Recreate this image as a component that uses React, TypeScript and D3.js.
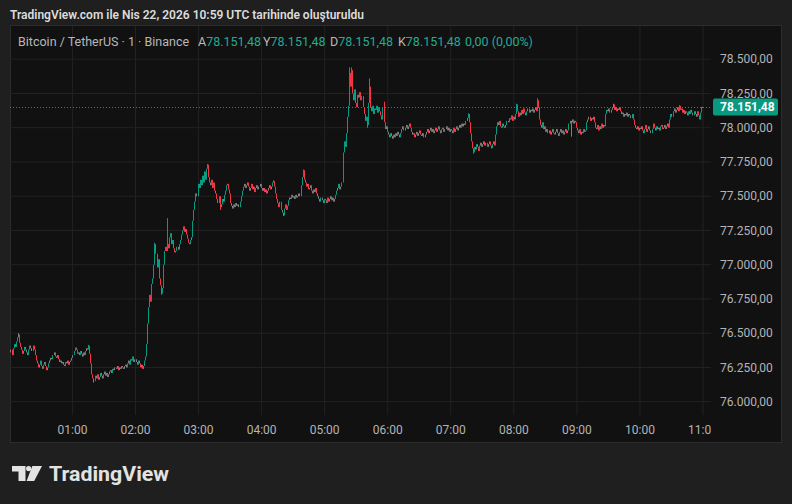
import { useEffect } from 'react';
import * as d3 from 'd3';

const W = 792;
const H = 504;

// 1-minute closes, one array per hour (00:00 - 10:59)
const h00 = [76360, 76380, 76340, 76390, 76420, 76400, 76440, 76470, 76490, 76430, 76400, 76380, 76350, 76370, 76400, 76380, 76360, 76340, 76380, 76410, 76390, 76370, 76410, 76380, 76340, 76300, 76280, 76250, 76270, 76300, 76260, 76240, 76270, 76290, 76260, 76230, 76250, 76280, 76300, 76320, 76310, 76340, 76360, 76330, 76320, 76340, 76310, 76290, 76300, 76280, 76290, 76270, 76260, 76290, 76280, 76300, 76270, 76290, 76300, 76320];
const h01 = [76340, 76370, 76395, 76380, 76350, 76360, 76340, 76370, 76350, 76330, 76360, 76340, 76370, 76390, 76380, 76408, 76350, 76280, 76200, 76170, 76150, 76190, 76170, 76200, 76160, 76180, 76210, 76190, 76170, 76200, 76220, 76190, 76210, 76180, 76200, 76220, 76230, 76210, 76240, 76230, 76250, 76240, 76260, 76230, 76250, 76240, 76260, 76250, 76240, 76260, 76270, 76250, 76280, 76300, 76270, 76310, 76300, 76330, 76290, 76310];
const h02 = [76290, 76270, 76300, 76280, 76250, 76270, 76240, 76260, 76300, 76330, 76420, 76570, 76690, 76780, 76730, 76860, 76900, 77000, 77150, 77080, 76980, 77040, 76900, 76850, 76790, 76830, 77000, 77100, 77130, 77100, 77150, 77120, 77200, 77230, 77150, 77180, 77120, 77090, 77100, 77130, 77110, 77150, 77180, 77220, 77250, 77280, 77240, 77260, 77220, 77190, 77160, 77150, 77180, 77200, 77320, 77400, 77460, 77520, 77500, 77590];
const h03 = [77560, 77620, 77580, 77650, 77600, 77680, 77620, 77700, 77730, 77640, 77600, 77580, 77620, 77560, 77600, 77540, 77520, 77480, 77450, 77500, 77420, 77440, 77480, 77460, 77510, 77540, 77580, 77590, 77550, 77520, 77450, 77430, 77410, 77440, 77420, 77450, 77430, 77440, 77420, 77460, 77500, 77540, 77570, 77590, 77560, 77580, 77600, 77570, 77540, 77560, 77590, 77550, 77570, 77530, 77560, 77580, 77550, 77570, 77590, 77560];
const h04 = [77540, 77560, 77530, 77550, 77520, 77540, 77560, 77580, 77550, 77570, 77600, 77610, 77570, 77520, 77480, 77450, 77420, 77460, 77400, 77380, 77360, 77410, 77440, 77400, 77430, 77470, 77490, 77480, 77510, 77490, 77500, 77480, 77510, 77490, 77500, 77520, 77500, 77580, 77640, 77690, 77620, 77600, 77570, 77590, 77550, 77560, 77580, 77540, 77520, 77550, 77530, 77560, 77520, 77500, 77480, 77460, 77490, 77470, 77450, 77480];
const h05 = [77470, 77450, 77490, 77460, 77480, 77500, 77470, 77490, 77460, 77480, 77510, 77540, 77560, 77590, 77550, 77570, 77600, 77820, 77900, 77860, 77960, 78080, 78160, 78400, 78300, 78420, 78250, 78200, 78280, 78180, 78150, 78240, 78220, 78260, 78200, 78230, 78150, 78100, 78050, 78080, 78020, 78180, 78300, 78150, 78120, 78160, 78100, 78140, 78130, 78160, 78110, 78150, 78120, 78090, 78060, 78150, 78040, 77990, 78010, 77970];
const h06 = [77950, 77930, 77960, 77940, 77920, 77950, 77930, 77960, 77940, 77970, 77950, 77930, 77960, 77990, 78010, 77980, 78000, 78020, 77990, 78010, 78030, 78000, 77970, 77950, 77960, 77930, 77950, 77970, 77940, 77960, 77980, 77950, 77940, 77960, 77930, 77950, 77970, 77990, 77960, 77980, 78000, 77970, 77990, 77960, 77980, 78000, 77970, 77990, 78010, 77980, 77960, 77990, 78000, 77970, 77990, 78010, 77980, 78000, 77970, 77990];
const h07 = [77980, 77960, 78000, 77970, 77990, 78010, 77980, 78000, 78020, 78000, 78030, 78010, 78030, 78020, 78050, 78070, 78100, 78040, 77960, 77900, 77850, 77820, 77860, 77840, 77880, 77860, 77830, 77870, 77890, 77860, 77880, 77900, 77870, 77890, 77860, 77880, 77900, 77870, 77850, 77880, 77900, 77870, 77950, 78010, 78040, 78020, 78050, 78010, 78000, 78030, 78010, 78000, 78020, 78050, 78040, 78070, 78060, 78090, 78050, 78080];
const h08 = [78060, 78100, 78170, 78120, 78080, 78110, 78090, 78130, 78100, 78140, 78110, 78090, 78120, 78140, 78110, 78130, 78120, 78140, 78110, 78130, 78150, 78120, 78200, 78150, 78060, 78020, 78000, 78040, 77990, 78010, 77970, 77990, 77960, 77980, 77950, 77970, 77990, 77960, 77950, 77970, 77990, 77960, 77940, 77970, 77990, 77960, 77980, 77950, 77970, 77990, 77960, 77980, 78030, 78050, 78040, 78060, 78030, 78050, 78040, 78000];
const h09 = [77980, 77960, 77990, 77950, 77970, 77960, 77990, 77970, 77980, 78040, 78060, 78080, 78050, 78070, 78060, 78080, 78040, 78000, 77990, 78020, 77980, 78010, 77990, 78030, 78000, 78020, 78010, 78100, 78130, 78120, 78140, 78110, 78130, 78150, 78170, 78130, 78150, 78120, 78140, 78130, 78150, 78120, 78100, 78110, 78080, 78100, 78090, 78110, 78080, 78100, 78090, 78070, 78100, 78060, 78020, 78000, 77990, 78010, 77980, 78000];
const h10 = [77990, 78010, 77980, 77960, 77990, 78020, 77970, 77990, 78010, 77980, 77960, 77990, 78030, 78000, 77980, 78010, 77990, 78000, 77980, 78010, 78020, 77990, 78000, 78020, 77990, 78010, 78030, 78000, 78060, 78100, 78080, 78120, 78140, 78110, 78130, 78150, 78120, 78160, 78130, 78140, 78110, 78130, 78100, 78120, 78110, 78090, 78120, 78100, 78130, 78110, 78090, 78120, 78100, 78080, 78120, 78090, 78060, 78110, 78151.48, 78151.48];

const firstOpen = 76340;

// notable wicks: [minute index, price]
const wickHighs: [number, number][] = [[8, 76500], [75, 76415], [138, 77160], [150, 77340], [188, 77735], [251, 77615], [279, 77695], [323, 78440], [325, 78440], [342, 78360], [356, 78190], [436, 78105], [482, 78175], [502, 78215], [574, 78175], [637, 78165]];
const wickLows: [number, number][] = [[80, 76140], [144, 76780], [200, 77400], [260, 77355], [340, 78000], [441, 77810], [534, 77935]];

const priceTicks = [76000, 76250, 76500, 76750, 77000, 77250, 77500, 77750, 78000, 78250, 78500];
const timeTicks = [60, 120, 180, 240, 300, 360, 420, 480, 540, 600, 660];
const timeLabels = ['01:00', '02:00', '03:00', '04:00', '05:00', '06:00', '07:00', '08:00', '09:00', '10:00', '11:00'];
const lastPrice = 78151.48;

const UP = '#089981';
const DOWN = '#f23645';
const FLAT = '#7f7f7f';
const FONT = 'Roboto, "Noto Sans", sans-serif';

const trLocale = d3.formatLocale({ decimal: ',', thousands: '.', grouping: [3], currency: ['', ''] });
const fmtPrice = trLocale.format(',.2f');

export default function App() {
  useEffect(() => {
    document.body.style.margin = '0';
    document.body.style.background = '#1f1f1f';
  }, []);

  const closes = [h00, h01, h02, h03, h04, h05, h06, h07, h08, h09, h10].flat();
  const highMap = new Map(wickHighs);
  const lowMap = new Map(wickLows);
  const candles = closes.map((c, i) => {
    const o = i === 0 ? firstOpen : closes[i - 1];
    const hi = Math.max(o, c, highMap.get(i) ?? -Infinity);
    const lo = Math.min(o, c, lowMap.get(i) ?? Infinity);
    return { i, o, c, hi, lo };
  });

  // plot geometry
  const plotLeft = 10;
  const plotRight = 711;
  const plotBottom = 415;

  const x = d3.scaleLinear().domain([0, 660]).range([9.4, 703]);
  const y = d3.scaleLinear().domain([76000, 78500]).range([401.7, 59.2]);

  const colorOf = (o: number, c: number) => (c - o > 20 ? UP : o - c > 20 ? DOWN : FLAT);

  const headerVals = [
    { k: 'A', kx: 198 },
    { k: 'Y', kx: 263 },
    { k: 'D', kx: 330 },
    { k: 'K', kx: 398 },
  ];

  return (
    <svg width={W} height={H} style={{ display: 'block' }} fontFamily={FONT}>
      <defs>
        <clipPath id="plot">
          <rect x={plotLeft} y={26} width={plotRight - plotLeft} height={plotBottom - 26} />
        </clipPath>
        <clipPath id="timeaxis">
          <rect x={plotLeft} y={416} width={plotRight - plotLeft} height={26} />
        </clipPath>
      </defs>
      <rect x={0} y={0} width={W} height={H} fill="#1f1f1f" />
      <text x={10} y={19} fontSize={12} fontWeight={600} fill="#dcdcdc">
        TradingView.com ile Nis 22, 2026 10:59 UTC tarihinde oluşturuldu
      </text>

      <rect x={10.5} y={25.5} width={771} height={417} fill="#111111" stroke="#2c2c2c" />

      {/* grid */}
      <g clipPath="url(#plot)">
        {timeTicks.map(t => (
          <line key={'v' + t} x1={x(t)} x2={x(t)} y1={26} y2={plotBottom} stroke="#222222" />
        ))}
        {priceTicks.map(p => (
          <line key={'h' + p} x1={plotLeft} x2={plotRight} y1={y(p)} y2={y(p)} stroke="#222222" />
        ))}
      </g>

      {/* candles */}
      <g clipPath="url(#plot)">
        {candles.map(d => {
          const cx = Math.round(x(d.i));
          const top = y(d.hi);
          const bot = y(d.lo);
          return (
            <rect
              key={d.i}
              x={cx}
              y={top}
              width={1}
              height={Math.max(1, bot - top)}
              fill={colorOf(d.o, d.c)}
            />
          );
        })}
        <line
          x1={plotLeft}
          x2={plotRight}
          y1={Math.round(y(lastPrice)) + 0.5}
          y2={Math.round(y(lastPrice)) + 0.5}
          stroke={UP}
          strokeDasharray="1,2"
        />
      </g>

      {/* price axis */}
      {priceTicks.map(p => (
        <text key={'pl' + p} x={720} y={y(p)} dy="0.35em" fontSize={12} fill="#b4b4b4">
          {fmtPrice(p)}
        </text>
      ))}
      <rect x={713} y={y(lastPrice) - 8.5} width={65} height={17} rx={2} fill={UP} />
      <text x={720} y={y(lastPrice)} dy="0.36em" fontSize={12} fontWeight={700} fill="#ffffff">
        {fmtPrice(lastPrice)}
      </text>

      {/* time axis */}
      <g clipPath="url(#timeaxis)">
        {timeTicks.map((t, i) => (
          <text key={'tl' + t} x={x(t)} y={434} textAnchor="middle" fontSize={12} fill="#b4b4b4">
            {timeLabels[i]}
          </text>
        ))}
      </g>

      {/* legend header */}
      <text y={46} fontSize={12.5} fill="#b8b8b8">
        <tspan x={18}>Bitcoin / TetherUS · 1 · Binance</tspan>
        {headerVals.map(h => (
          <tspan key={h.k} x={h.kx}>
            {h.k}
            <tspan fill="#22ab94">{fmtPrice(lastPrice)}</tspan>
          </tspan>
        ))}
        <tspan x={465} fill="#22ab94">0,00 (0,00%)</tspan>
      </text>

      {/* logo */}
      <g fill="#e3e3e3">
        <path d="M12,466 H25.5 V481 H18.5 V471.5 H12 Z" />
        <circle cx={28.6} cy={468.6} r={2.6} />
        <path d="M32.3,466 H42 L34.2,481 H26.6 Z" />
        <text x={49} y={481} fontSize={21} fontWeight={700} textLength={120} lengthAdjust="spacingAndGlyphs">
          TradingView
        </text>
      </g>
    </svg>
  );
}
